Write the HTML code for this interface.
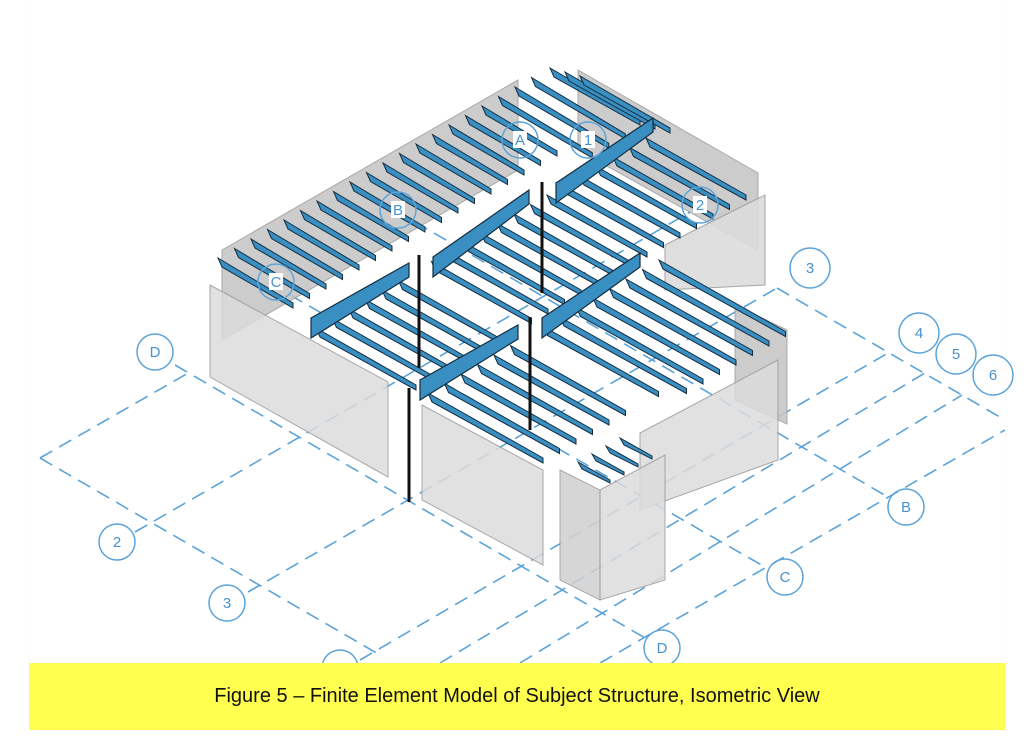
<!DOCTYPE html>
<html><head><meta charset="utf-8"><style>
html,body{margin:0;padding:0;background:#fff;}
#w{position:relative;width:1024px;height:743px;overflow:hidden;background:#fff;}
#cap{position:absolute;left:29px;top:663px;width:976px;height:67px;background:#ffff4f;font-family:"Liberation Sans",sans-serif;font-size:20px;color:#111;text-align:center;line-height:67px;}
.bl{position:absolute;top:0;width:1px;height:663px;background:#ffffd8;}
</style></head><body><div id="w">
<div class="bl" style="left:29px"></div><div class="bl" style="left:1005px"></div>
<svg id="s" width="1024" height="743" style="position:absolute;left:0;top:0" font-family="Liberation Sans, sans-serif">
<g stroke="#5ba3d9" stroke-width="1.6" stroke-dasharray="14 8" fill="none">
<line x1="40" y1="458" x2="380" y2="655"/>
<line x1="40" y1="458" x2="190" y2="372"/>
<line x1="175" y1="365" x2="645" y2="638"/>
<line x1="290" y1="295" x2="765" y2="567"/>
<line x1="415" y1="222" x2="888" y2="497"/>
<line x1="777" y1="288" x2="1005" y2="420"/>
<line x1="135" y1="532" x2="690" y2="212"/>
<line x1="248" y1="592" x2="777" y2="288"/>
<line x1="360" y1="660" x2="888" y2="353"/>
<line x1="440" y1="663" x2="925" y2="373"/>
<line x1="520" y1="663" x2="962" y2="395"/>
<line x1="600" y1="663" x2="1005" y2="430"/>
</g>
<g stroke="#9a9a9a" stroke-width="1">
<polygon points="222,250 518,80 518,170 222,340" fill="#c4c4c4" opacity="0.85"/>
<polygon points="578,70 758,173 758,250 578,150" fill="#c4c4c4" opacity="0.85"/>
<polygon points="665,245 765,195 765,285 665,290" fill="#dcdcdc" opacity="0.9"/>
<polygon points="735,305 787,330 787,424 735,400" fill="#c4c4c4" opacity="0.85"/>
<polygon points="640,433 778,360 778,460 640,510" fill="#dcdcdc" opacity="0.85"/>
</g>
<g id="beams" fill="#3a8fc2" stroke="#142c3e" stroke-width="1"></g>
<g stroke="#9a9a9a" stroke-width="1">
<polygon points="210,285 388,382 388,477 210,377" fill="#dcdcdc" opacity="0.85"/>
<polygon points="422,405 543,470 543,565 422,500" fill="#dcdcdc" opacity="0.85"/>
<polygon points="560,470 600,490 600,600 560,580" fill="#d0d0d0" opacity="0.85"/>
<polygon points="600,490 665,455 665,580 600,600" fill="#dcdcdc" opacity="0.85"/>
</g>
<g id="small" fill="#3a8fc2" stroke="#142c3e" stroke-width="1"></g>
<g stroke="#111" stroke-width="3">
<line x1="419" y1="255" x2="419" y2="368"/>
<line x1="542" y1="182" x2="542" y2="293"/>
<line x1="530" y1="317" x2="530" y2="430"/>
<line x1="409" y1="388" x2="409" y2="502"/>
</g>
<g id="gird" fill="#3a8fc2" stroke="#142c3e" stroke-width="1.2"></g>
<g fill="none" stroke="#5ba3d9" stroke-width="1.5">
<circle cx="155" cy="352" r="18"/><circle cx="117" cy="542" r="18"/><circle cx="227" cy="603" r="18"/>
<circle cx="340" cy="668" r="18"/><circle cx="662" cy="648" r="18"/><circle cx="785" cy="577" r="18"/>
<circle cx="906" cy="507" r="18"/><circle cx="810" cy="268" r="20"/><circle cx="919" cy="333" r="20"/>
<circle cx="956" cy="354" r="20"/><circle cx="993" cy="375" r="20"/>
<circle cx="520" cy="140" r="18"/><circle cx="588" cy="140" r="18"/><circle cx="398" cy="210" r="18"/>
<circle cx="700" cy="205" r="18"/><circle cx="276" cy="282" r="18"/>
</g>
<g fill="#fff"><rect x="513" y="131" width="14" height="17"/><rect x="581" y="131" width="14" height="17"/><rect x="391" y="201" width="14" height="17"/><rect x="693" y="196" width="14" height="17"/><rect x="269" y="273" width="14" height="17"/></g>
<g fill="#4a92cc" font-size="15" text-anchor="middle">
<text x="155" y="357">D</text><text x="117" y="547">2</text><text x="227" y="608">3</text>
<text x="662" y="653">D</text><text x="785" y="582">C</text><text x="906" y="512">B</text>
<text x="810" y="273">3</text><text x="919" y="338">4</text><text x="956" y="359">5</text><text x="993" y="380">6</text>
<text x="520" y="145">A</text><text x="588" y="145">1</text><text x="398" y="215">B</text><text x="700" y="210">2</text><text x="276" y="287">C</text>
</g>
</svg>
<div id="cap">Figure 5 – Finite Element Model of Subject Structure, Isometric View</div>
</div>
<script>
var NS="http://www.w3.org/2000/svg";
function poly(g,pts){var p=document.createElementNS(NS,"polygon");p.setAttribute("points",pts.map(function(a){return a[0].toFixed(1)+","+a[1].toFixed(1)}).join(" "));document.getElementById(g).appendChild(p);}
function beam(g,sx,sy,dx,dy,t){t=t||6;poly(g,[[sx,sy],[sx+dx,sy+dy],[sx+dx,sy+dy+t-1],[sx+4,sy+t+3]]);}
var i;
for(i=0;i<20;i++){var sx=218+16.5*i,sy=258-9.5*i;var L=i<17?1:1.25;beam("beams",sx,sy,75*L,45*L);}
for(i=0;i<3;i++){beam("beams",550+15*i,68+4*i,90,52);}
for(i=0;i<21;i++){var sx=316+16.5*i,sy=328-9.5*i;if(Math.abs(sx-420)<6||Math.abs(sx-540)<6)continue;beam("beams",sx,sy,100,57);}
for(i=0;i<15;i++){var sx=428+16.5*i,sy=393-9.5*i;if(Math.abs(sx-530)<6)continue;var k=i>=8?1.1:1;beam("beams",sx,sy,115*k,65*k);}
for(i=0;i<4;i++){beam("small",578+14*i,462-8*i,32,18,4);}
var G=[[556,183,653,118],[433,257,529,190],[311,318,409,263],[542,318,640,253],[420,380,518,325]];
G.forEach(function(g){poly("gird",[[g[0],g[1]],[g[2],g[3]],[g[2],g[3]+14],[g[0],g[1]+20]]);});
</script>
</body></html>
